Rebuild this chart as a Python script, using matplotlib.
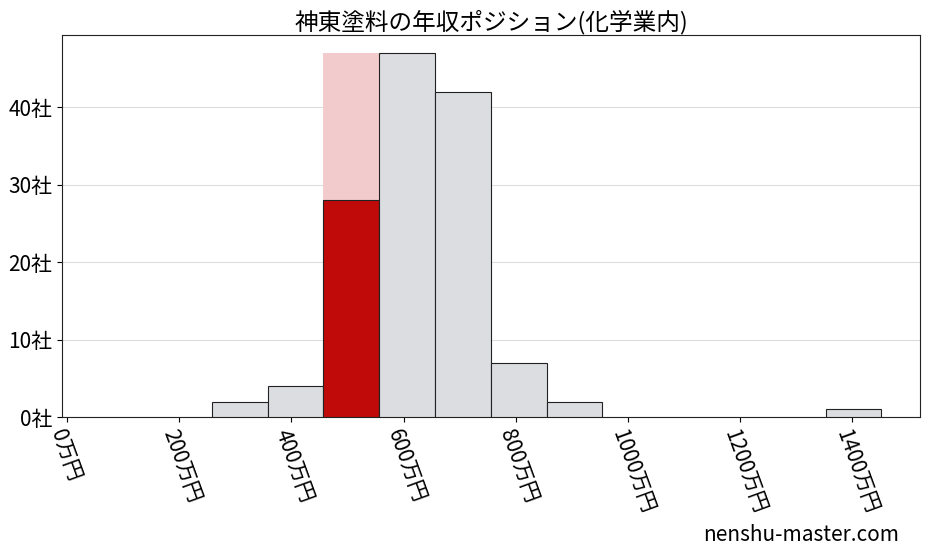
import matplotlib
matplotlib.use("Agg")
import matplotlib.pyplot as plt

plt.rcParams['font.family'] = ['Noto Sans CJK JP', 'DejaVu Sans']

bin_left = [258, 357.5, 457, 556.5, 656, 755.5, 855, 1352.5]
counts = [2, 4, 28, 47, 42, 7, 2, 1]
highlight_index = 2
highlight_total = 47
bin_width = 99.5
xticks = [0, 200, 400, 600, 800, 1000, 1200, 1400]
xtick_labels = [f"{v}万円" for v in xticks]
yticks = [0, 10, 20, 30, 40]
ytick_labels = [f"{v}社" for v in yticks]

fig = plt.figure(figsize=(9.27, 5.57), dpi=100)
ax = fig.add_axes([62/927, 1-417/557, (920-62)/927, (417-35)/557])

ax.bar(bin_left[highlight_index], highlight_total, width=bin_width, align='edge',
       color='#f2cccc', zorder=2)
for i, (l, c) in enumerate(zip(bin_left, counts)):
    col = '#c00a0a' if i == highlight_index else '#dcdde0'
    ax.bar(l, c, width=bin_width, align='edge', color=col, edgecolor='#222222',
           linewidth=0.8, zorder=3)

ax.set_xlim(-9, 1521)
ax.set_ylim(0, 49.3)
ax.set_xticks(xticks)
ax.set_xticklabels(xtick_labels, rotation=-70, ha='left', va='top', fontsize=15,
                   rotation_mode='anchor')
ax.set_yticks(yticks)
ax.set_yticklabels(ytick_labels, fontsize=15)
ax.grid(axis='y', color='#dddddd', linewidth=0.8, zorder=0)
ax.set_axisbelow(True)
for s in ax.spines.values():
    s.set_color('#222222')
ax.set_title("神東塗料の年収ポジション(化学業内)", fontsize=17, pad=4)
fig.text(0.97, 0.02, "nenshu-master.com", ha='right', va='bottom', fontsize=15)
fig.savefig("out.png", dpi=100)
